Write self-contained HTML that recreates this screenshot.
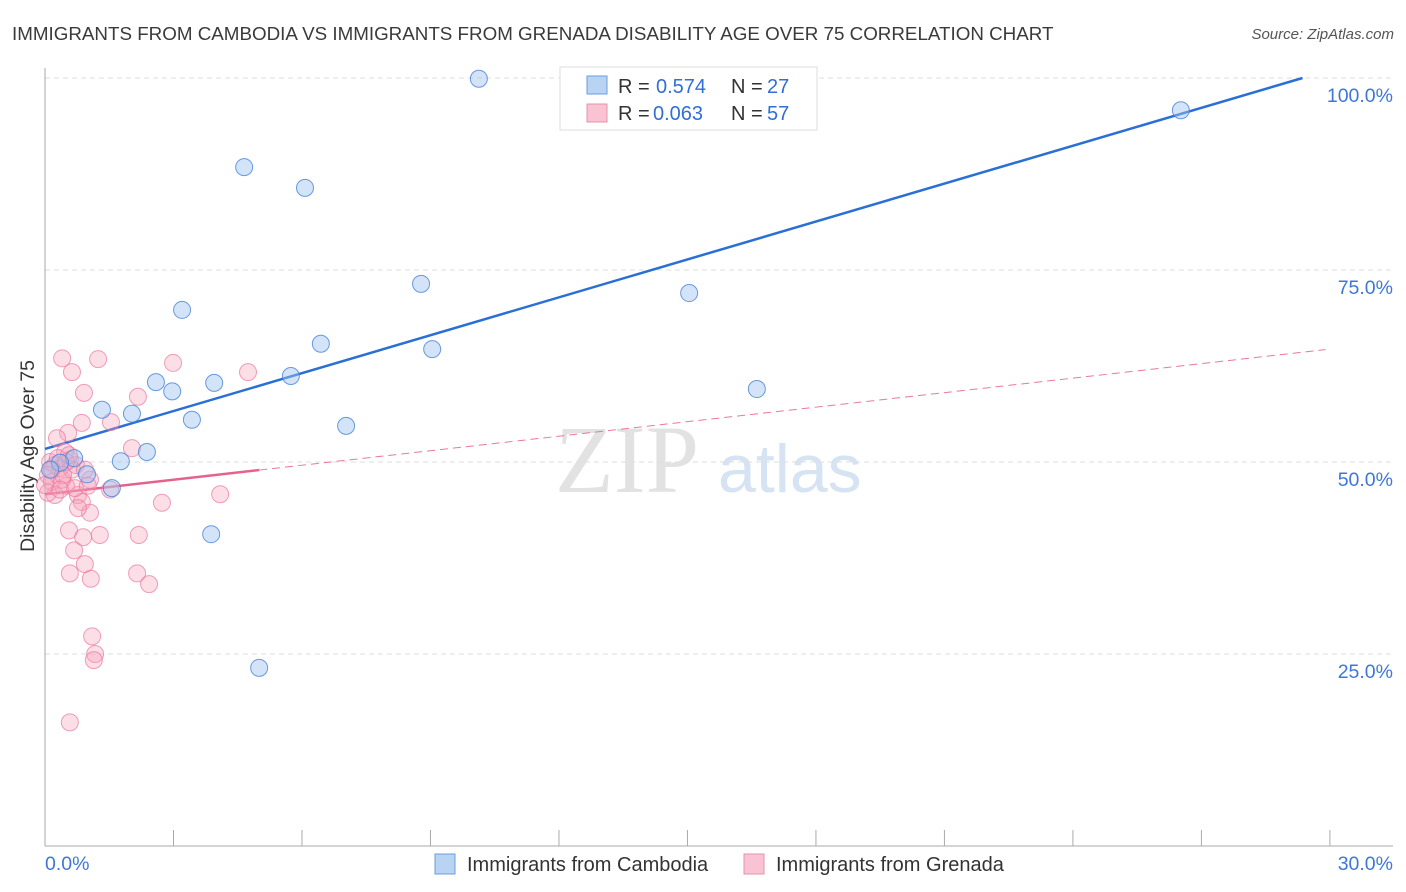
<!DOCTYPE html>
<html><head><meta charset="utf-8"><style>
body{margin:0;background:#fff;font-family:"Liberation Sans",sans-serif;}
svg{display:block}
</style></head><body>
<svg id="chart" width="1406" height="892">
<text x="12" y="40" font-size="18.8" fill="#3a3a3a">IMMIGRANTS FROM CAMBODIA VS IMMIGRANTS FROM GRENADA DISABILITY AGE OVER 75 CORRELATION CHART</text>
<text x="1394" y="39" font-size="15" fill="#555" text-anchor="end" font-style="italic">Source: ZipAtlas.com</text>
<text x="0" y="0" font-size="19.5" fill="#333" transform="translate(34,456) rotate(-90)" text-anchor="middle">Disability Age Over 75</text>
<text x="555" y="492" font-size="96" fill="#e2e2e2" font-family="Liberation Serif,serif">ZIP</text>
<text x="718" y="492" font-size="68" fill="#d6e3f3">atlas</text>
<g id="grid"></g><g id="axes"></g><g id="trend"></g><g id="points"></g>
<g>
<rect x="560" y="67" width="257" height="63" fill="#fff" stroke="#ddd"/>
<rect x="587" y="76" width="20" height="18" fill="#b9d3f3" stroke="#6a9de0"/>
<rect x="587" y="104" width="20" height="18" fill="#f9c3d3" stroke="#e890ab"/>
<text x="618" y="93" font-size="20" fill="#333">R =</text>
<text x="656" y="93" font-size="20" fill="#2f6fd6">0.574</text>
<text x="731" y="93" font-size="20" fill="#333">N =</text>
<text x="767" y="93" font-size="20" fill="#2f6fd6">27</text>
<text x="618" y="120" font-size="20" fill="#333">R =</text>
<text x="653" y="120" font-size="20" fill="#2f6fd6">0.063</text>
<text x="731" y="120" font-size="20" fill="#333">N =</text>
<text x="767" y="120" font-size="20" fill="#2f6fd6">57</text>
</g>
<g>
<rect x="435" y="854" width="20" height="20" fill="#b9d3f3" stroke="#6a9de0"/>
<text x="467" y="871" font-size="20" fill="#333">Immigrants from Cambodia</text>
<rect x="744" y="854" width="20" height="20" fill="#f9c3d3" stroke="#e890ab"/>
<text x="776" y="871" font-size="20" fill="#333">Immigrants from Grenada</text>
</g>
</svg>
<script>
const xTicks=[0,3,6,9,12,15,18,21,24,27,30];
const yTicks=[25,50,75,100];
const yTickLabels=["25.0%","50.0%","75.0%","100.0%"];
const cambX=[10.13,4.65,6.07,26.52,3.20,8.78,15.04,6.44,9.04,2.59,3.95,5.74,2.97,16.62,1.33,2.03,3.43,7.03,2.38,1.77,0.68,0.98,1.56,3.88,5.00,0.35,0.12];
const cambY=[99.9,88.4,85.7,95.8,69.8,73.2,72.0,65.4,64.7,60.4,60.3,61.2,59.2,59.5,56.8,56.3,55.5,54.7,51.3,50.1,50.5,48.4,46.6,40.6,23.2,49.9,49.0];
const grenX=[0.40,1.24,0.63,2.99,4.74,0.91,2.17,0.54,0.28,0.86,1.54,2.03,0.47,0.12,0.23,0.35,0.07,0.58,0.72,1.05,0.16,0.49,0.77,0.23,0.07,0.86,1.05,0.77,1.52,2.73,4.09,0.56,0.89,1.28,2.19,0.68,0.93,0.58,1.07,2.15,2.43,1.10,1.17,1.14,0.58,0.40,0.63,0.30,0.49,0.93,0.16,0.42,0.70,1.00,0.35,0.56,0.00];
const grenY=[63.5,63.4,61.7,62.9,61.7,59.0,58.5,53.8,53.1,55.1,55.2,51.8,51.3,50.0,49.6,49.2,48.3,50.3,49.6,47.7,47.4,46.9,45.7,45.7,46.0,44.8,43.4,44.0,46.4,44.7,45.8,41.1,40.2,40.5,40.5,38.5,36.7,35.5,34.8,35.5,34.1,27.3,25.0,24.2,16.1,47.7,49.0,50.5,50.0,49.0,49.0,48.3,46.6,46.9,46.4,50.9,47.0];
const cambTrend=[51.7,1.645];
const grenTrend=[45.8,0.63];
const NS="http://www.w3.org/2000/svg";
const X=v=>45+v*42.83, Y=v=>846-v*7.68;
function mk(t,a,p){const e=document.createElementNS(NS,t);for(const k in a)e.setAttribute(k,a[k]);p.appendChild(e);return e;}
const grid=document.getElementById('grid'),axes=document.getElementById('axes'),tr=document.getElementById('trend'),pts=document.getElementById('points');
mk('line',{x1:45,y1:Y(100),x2:1393,y2:Y(100),stroke:'#ddd','stroke-dasharray':'5,4'},grid);
yTicks.forEach((t,i)=>{const l=mk('line',{x1:45,y1:Y(t),x2:1393,y2:Y(t),stroke:'#ddd','stroke-dasharray':'5,4'},grid);


const tx=mk('text',{x:1393,y:Y(t)+24,'font-size':19.5,fill:'#3d78d8','text-anchor':'end'},axes);tx.textContent=yTickLabels[i];

});
mk('line',{x1:45,y1:68,x2:45,y2:846,stroke:'#aaa'},axes);
mk('line',{x1:45,y1:846,x2:1393,y2:846,stroke:'#aaa'},axes);
xTicks.forEach(t=>{const l=mk('line',{x1:X(t),y1:830,x2:X(t),y2:846,stroke:'#aaa'},axes);

});
const xl0=mk('text',{x:45,y:870,'font-size':19.5,fill:'#3d78d8'},axes);xl0.textContent=xTicks[0].toFixed(1)+'%';


const xl1=mk('text',{x:1393,y:870,'font-size':19.5,fill:'#3d78d8','text-anchor':'end'},axes);xl1.textContent=xTicks[xTicks.length-1].toFixed(1)+'%';


const bx2=(100-cambTrend[0])/cambTrend[1];
const bl=mk('line',{x1:X(0),y1:Y(cambTrend[0]),x2:X(bx2),y2:Y(100),stroke:'#2a6fd6','stroke-width':2.5},tr);


const pd=mk('line',{x1:X(5),y1:Y(grenTrend[0]+grenTrend[1]*5),x2:X(29.9),y2:Y(grenTrend[0]+grenTrend[1]*29.9),stroke:'#e8799c','stroke-width':1,'stroke-dasharray':'8,5'},tr);


const pl=mk('line',{x1:X(0),y1:Y(grenTrend[0]),x2:X(5),y2:Y(grenTrend[0]+grenTrend[1]*5),stroke:'#e5628c','stroke-width':2.5},tr);


grenX.forEach((x,i)=>{const c=mk('circle',{cx:X(x),cy:Y(grenY[i]),r:8.5,fill:'rgba(245,160,187,0.35)',stroke:'rgba(232,120,158,0.7)','stroke-width':1},pts);

});
cambX.forEach((x,i)=>{const c=mk('circle',{cx:X(x),cy:Y(cambY[i]),r:8.5,fill:'rgba(160,196,240,0.45)',stroke:'rgba(70,130,215,0.8)','stroke-width':1},pts);

});
</script>
</body></html>
